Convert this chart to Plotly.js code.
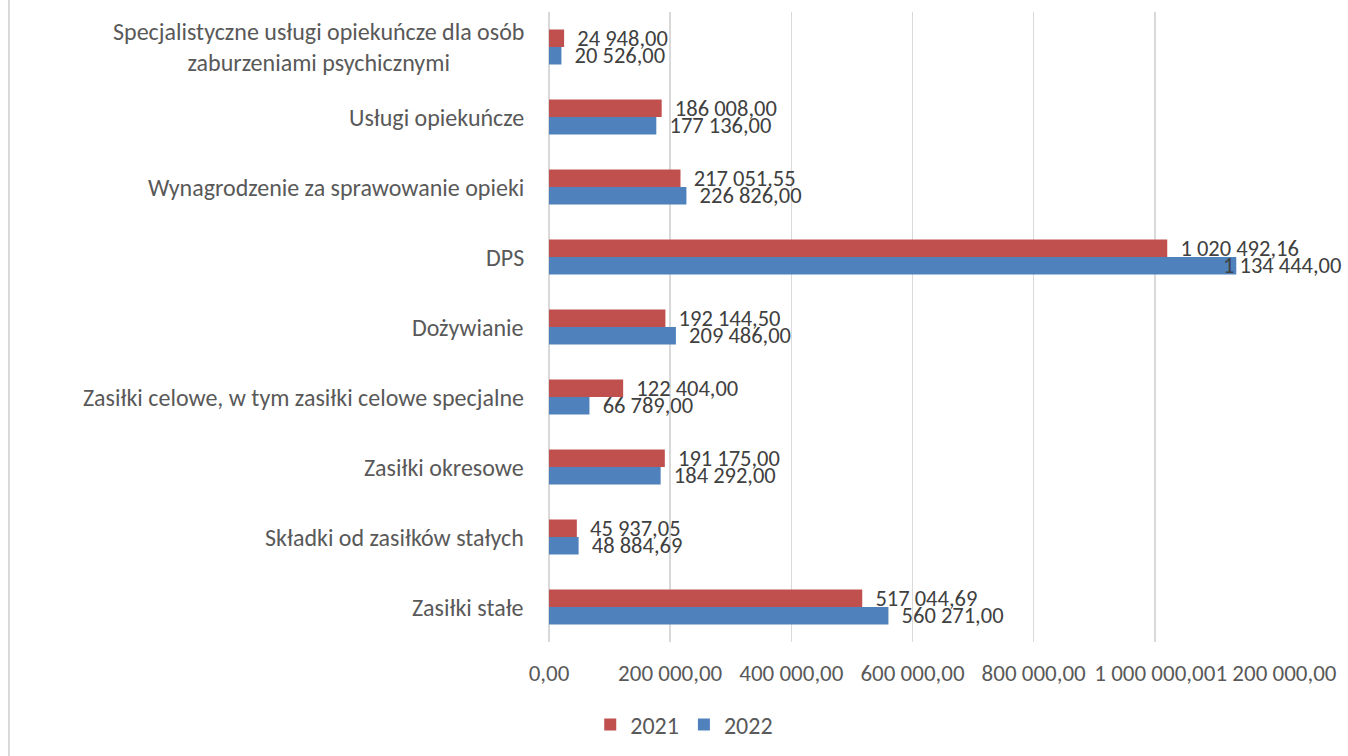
<!DOCTYPE html>
<html>
<head>
<meta charset="utf-8">
<script src="https://cdn.plot.ly/plotly-3.0.1.min.js"></script>
<style>
html,body{margin:0;padding:0;background:#fff;}
#wrap{position:relative;width:1348px;height:756px;}
#edge{position:absolute;left:8px;top:0;width:2px;height:756px;background:#d9d9d9;z-index:5;}
#chart{width:1348px;height:756px;}
</style>
</head>
<body>
<div id="wrap"><div id="edge"></div><div id="chart"></div></div>
<script>
const categories = [
  "Specjalistyczne usługi opiekuńcze dla osób<br>zaburzeniami psychicznymi",
  "Usługi opiekuńcze",
  "Wynagrodzenie za sprawowanie opieki",
  "DPS",
  "Dożywianie",
  "Zasiłki celowe, w tym zasiłki celowe specjalne",
  "Zasiłki okresowe",
  "Składki od zasiłków stałych",
  "Zasiłki stałe"
];
const values2021 = [24948.00, 186008.00, 217051.55, 1020492.16, 192144.50, 122404.00, 191175.00, 45937.05, 517044.69];
const values2022 = [20526.00, 177136.00, 226826.00, 1134444.00, 209486.00, 66789.00, 184292.00, 48884.69, 560271.00];
const seriesNames = ["2021", "2022"];
const xTickVals = [0, 200000, 400000, 600000, 800000, 1000000, 1200000];
const xMax = 1200000;

const FONT = "Carlito, Lato, 'Open Sans', sans-serif";
const FS = 24;
const LBL = {family: FONT, size: 22.5, color: "#404040"};
const gap = "\u00a0\u00a0";

// labels that would run past the chart edge are pulled back (as in the original)
const tooLong = v => v > 0.9 * xMax;

function mk(name, vals, color) {
  return {
    type: "bar", orientation: "h", name: name,
    y: categories, x: vals,
    marker: {color: color},
    texttemplate: vals.map(v => tooLong(v) ? "" : gap + "%{x:,.2f}"),
    textposition: "outside",
    constraintext: "none",
    cliponaxis: false,
    textfont: LBL,
    hoverinfo: "skip"
  };
}

const data = [
  mk(seriesNames[0], values2021, "#C0504D"),
  mk(seriesNames[1], values2022, "#4F81BD")
];

const fmt = v => {
  const [i, d] = v.toFixed(2).split(".");
  return i.replace(/\B(?=(\d{3})+(?!\d))/g, " ") + "," + d;
};

const annotations = categories.map(c => ({
  xref: "paper", yref: "y", x: 0, y: c,
  xanchor: "right", yanchor: "middle", xshift: -23,
  align: "center", showarrow: false, text: c,
  font: {family: FONT, size: FS, color: "#595959"}
}));

[values2021, values2022].forEach((vals, s) => {
  vals.forEach((v, i) => {
    if (tooLong(v)) {
      annotations.push({
        xref: "paper", yref: "y", x: 1.092, y: categories[i],
        yshift: s === 0 ? 8.75 : -8.75,
        xanchor: "right", yanchor: "middle", showarrow: false,
        text: fmt(v), font: LBL
      });
    }
  });
});

const layout = {
  width: 1348, height: 756,
  margin: {l: 549, r: 72, t: 12, b: 114, autoexpand: false},
  paper_bgcolor: "#ffffff", plot_bgcolor: "#ffffff",
  separators: ", ",
  barmode: "group", bargap: 0.5, bargroupgap: 0,
  font: {family: FONT, size: FS, color: "#595959"},
  xaxis: {
    range: [0, xMax], tickvals: xTickVals, tickformat: ",.2f",
    tickangle: 0,
    showgrid: true, gridcolor: "#d9d9d9", gridwidth: 1.5,
    zeroline: true, zerolinecolor: "#d9d9d9", zerolinewidth: 1.5,
    showline: false, ticks: "", ticklabelstandoff: 15,
    tickfont: {family: FONT, size: 23, color: "#595959"},
    fixedrange: true
  },
  yaxis: {
    type: "category", categoryorder: "array", categoryarray: categories,
    autorange: "reversed", showticklabels: false, showgrid: false,
    zeroline: false, showline: false, ticks: "", fixedrange: true
  },
  showlegend: true,
  legend: {
    orientation: "h", xref: "container", x: 0.5076, xanchor: "center",
    yref: "container", y: 0.041, yanchor: "middle", traceorder: "normal",
    font: {family: FONT, size: FS, color: "#595959"}
  },
  annotations: annotations
};

Plotly.newPlot("chart", data, layout, {displayModeBar: false, staticPlot: true});
</script>
</body>
</html>
